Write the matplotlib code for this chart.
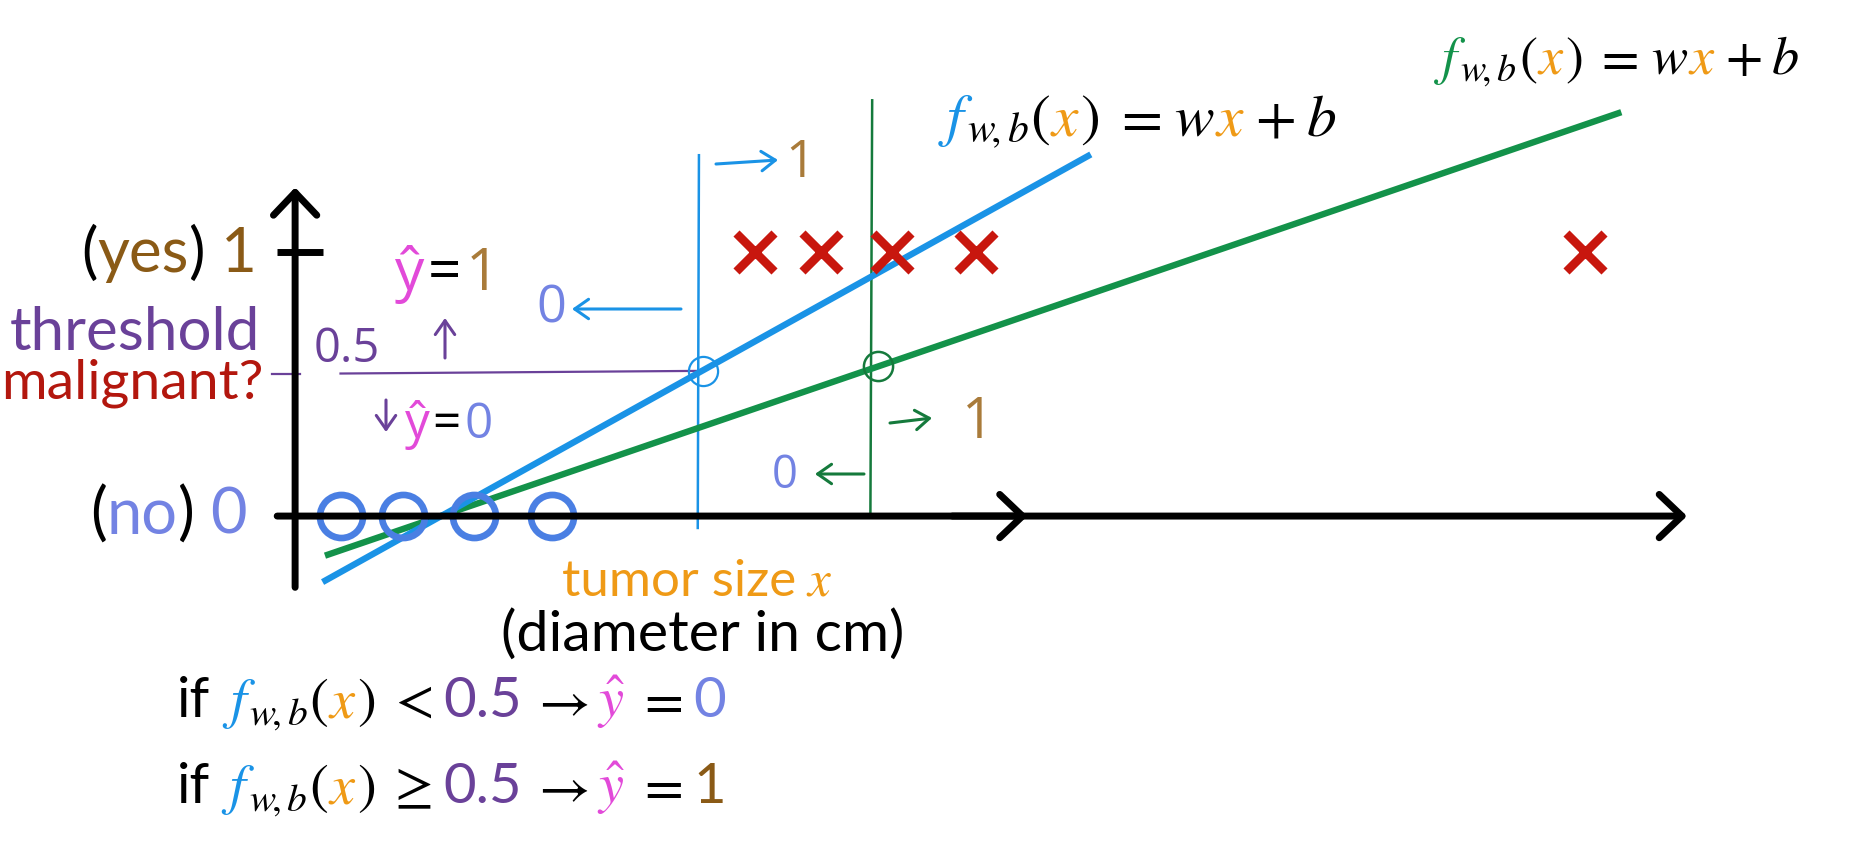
import matplotlib
matplotlib.use('Agg')
import matplotlib.pyplot as plt

W, H = 1874, 850

# values (x: tumor size units, y: 0 = no, 1 = yes)
benign_x = [0.76, 1.8, 3.0, 4.3]
malignant_x = [7.7, 8.8, 10.0, 11.4, 21.6]
blue_fit_x = [0.46, 13.32]
blue_fit_y = [-0.25, 1.37]
green_fit_x = [0.5, 22.2]
green_fit_y = [-0.15, 1.53]
threshold = 0.54
blue_cut = (6.82, 0.55)
green_cut = (9.76, 0.57)
blue_boundary = 6.76
green_boundary = 9.66

c_blue = '#1a93e6'
c_green = '#13924a'
c_dgreen = '#157a3c'
c_red = '#c8170e'
c_ring = '#4a7fe3'
c_brown = '#8a5a16'
c_lbrown = '#a97b3a'
c_lav = '#7383e3'
c_purple = '#6a4199'
c_mal = '#b3170e'
c_orange = '#ef9a16'
c_pink = '#e24ad9'

fig = plt.figure(figsize=(W / 100, H / 100), dpi=100)
fig.patch.set_facecolor('white')
ax = fig.add_axes([0, 0, 1, 1])
ax.set_xlim(-4.94, 26.43)
ax.set_ylim(-1.265, 1.955)
ax.axis('off')
renderer = fig.canvas.get_renderer()

FONTS = {
    's': dict(family='Lato'),
    'm': dict(family='DejaVu Serif', math_fontfamily='stix'),
    'h': dict(family='Open Sans', math_fontfamily='dejavusans'),
}


def write(x, y, pieces, width, ha='left', size=30):
    # x, y in reference pixels from top-left, y is the baseline
    def build(sz):
        arts, ws = [], []
        for p in pieces:
            if isinstance(p, (int, float)):
                arts.append(None)
                ws.append(p * sz * 100 / 72)
                continue
            s, c, f = p
            t = fig.text(0, 0, s, color=c, fontsize=sz, va='baseline', **FONTS[f])
            arts.append(t)
            ws.append(t.get_window_extent(renderer).width)
        return arts, ws

    arts, ws = build(size)
    if width:
        for a in arts:
            if a is not None:
                a.remove()
        size = size * width / sum(ws)
        arts, ws = build(size)
    total = sum(ws)
    x0 = x - {'left': 0, 'center': total / 2, 'right': total}[ha]
    for a, w in zip(arts, ws):
        if a is not None:
            a.set_position((x0 / W, 1 - y / H))
        x0 += w


def hand_arrow(x0, y0, x1, y1, color, lw=2.2):
    ax.annotate('', xy=(x1, H - y1), xytext=(x0, H - y0),
                xycoords='figure pixels', textcoords='figure pixels',
                arrowprops=dict(arrowstyle='->,head_length=0.5,head_width=0.35',
                                color=color, lw=lw, mutation_scale=20,
                                shrinkA=0, shrinkB=0))


def f_wb(fcol, xcol):
    return [('$f$', fcol, 'm'), -0.12, ('${}_{w\\!,b}$', 'black', 'm'), 0.03,
            ('$($', 'black', 'm'), ('$x$', xcol, 'm'), ('$)$', 'black', 'm')]


# axes
head = dict(arrowstyle='->,head_length=0.82,head_width=0.78', lw=5, color='black',
            mutation_scale=20, shrinkA=0, shrinkB=0)
ax.annotate('', xy=(0, 1.245), xytext=(0, -0.27), arrowprops=head)
ax.annotate('', xy=(23.3, 0), xytext=(-0.3, 0), arrowprops=head)
ax.annotate('', xy=(12.26, 0), xytext=(11.0, 0), arrowprops=head)
ax.plot([-0.3, 0.46], [1, 1], color='black', lw=5, solid_capstyle='butt')

# threshold and decision boundaries
ax.plot([-0.38, 0.08], [threshold, threshold], color=c_purple, lw=1.6)
ax.plot([0.76, blue_boundary], [threshold, threshold + 0.01], color=c_purple, lw=1.6)
ax.plot([blue_boundary, blue_boundary - 0.02], [1.367, -0.045], color=c_blue, lw=1.8)
ax.plot([green_boundary, green_boundary - 0.03], [1.575, 0.0], color=c_dgreen, lw=1.8)

# fitted lines
ax.plot(green_fit_x, green_fit_y, color=c_green, lw=4.6, solid_capstyle='butt')
ax.plot(blue_fit_x, blue_fit_y, color=c_blue, lw=4.6, solid_capstyle='butt')

# data
ax.plot(benign_x, [0] * len(benign_x), 'o', ms=31, mfc='none', mec=c_ring, mew=4.8)
ax.plot(malignant_x, [1] * len(malignant_x), 'x', ms=27, mec=c_red, mew=6.2)

# crossings
ax.plot(*blue_cut, 'o', ms=21, mfc='none', mec=c_blue, mew=1.6)
ax.plot(*green_cut, 'o', ms=21, mfc='none', mec=c_dgreen, mew=1.8)

# formulas next to the lines
tail = [0.22, ('$=$', 'black', 'm'), 0.22, ('$w$', 'black', 'm'), ('$x$', c_orange, 'm'),
        0.18, ('$+$', 'black', 'm'), 0.18, ('$b$', 'black', 'm')]
write(1434, 74, f_wb(c_green, c_orange) + tail, 371)
write(938, 135, f_wb(c_blue, c_orange) + tail, 406)

# left labels
write(257, 272, [('(', 'black', 's'), ('yes', c_brown, 's'), (')', 'black', 's'), 0.25,
                 ('1', c_brown, 's')], 176, ha='right')
write(260, 350, [('threshold', c_purple, 's')], 250, ha='right')
write(264, 398, [('malignant?', c_mal, 's')], 262, ha='right')
write(247, 534, [('(', 'black', 's'), ('no', c_lav, 's'), (')', 'black', 's'), 0.25,
                 ('0', c_lav, 's')], 157, ha='right')

# x-axis labels
write(697, 596, [('tumor size', c_orange, 's'), 0.2, ('$x$', c_orange, 'm')], 271, ha='center')
write(703, 651, [('(diameter in cm)', 'black', 's')], 403, ha='center')

# decision rule
rule_mid = [0.2, ('0.5', c_purple, 's'), 0.15, ('$\\rightarrow$', 'black', 'm'), 0.15,
            ('$\\hat{y}$', c_pink, 'm'), 0.2, ('$=$', 'black', 'm'), 0.2]
write(177, 717, [('if', 'black', 's'), 0.2] + f_wb(c_blue, c_orange) +
      [0.2, ('$<$', 'black', 'm')] + rule_mid + [('0', c_lav, 's')], 554)
write(177, 803, [('if', 'black', 's'), 0.2] + f_wb(c_blue, c_orange) +
      [0.2, ('$\\geq$', 'black', 'm')] + rule_mid + [('1', c_brown, 's')], 554)

# handwritten notes
write(395, 290, [('ŷ', c_pink, 'h'), 0.05, ('=', 'black', 'h'), 0.08, ('1', c_lbrown, 'h')], 104)
write(314, 362, [('0.5', c_purple, 'h')], 66)
hand_arrow(445, 358, 445, 318, c_purple)
hand_arrow(386, 400, 386, 432, c_purple)
write(405, 438, [('ŷ', c_pink, 'h'), 0.05, ('=', 'black', 'h'), 0.08, ('0', c_lav, 'h')], 88)
write(536, 322, [('0', c_lav, 'h')], 30)
hand_arrow(681, 309, 572, 309, c_blue)
hand_arrow(716, 164, 778, 160, c_blue)
write(785, 177, [('1', c_lbrown, 'h')], 30)
hand_arrow(890, 423, 932, 418, c_dgreen)
write(962, 438, [('1', c_lbrown, 'h')], 32)
write(772, 488, [('0', c_lav, 'h')], 26)
hand_arrow(864, 474, 815, 474, c_dgreen)

fig.savefig('out.png', dpi=100, facecolor='white')
